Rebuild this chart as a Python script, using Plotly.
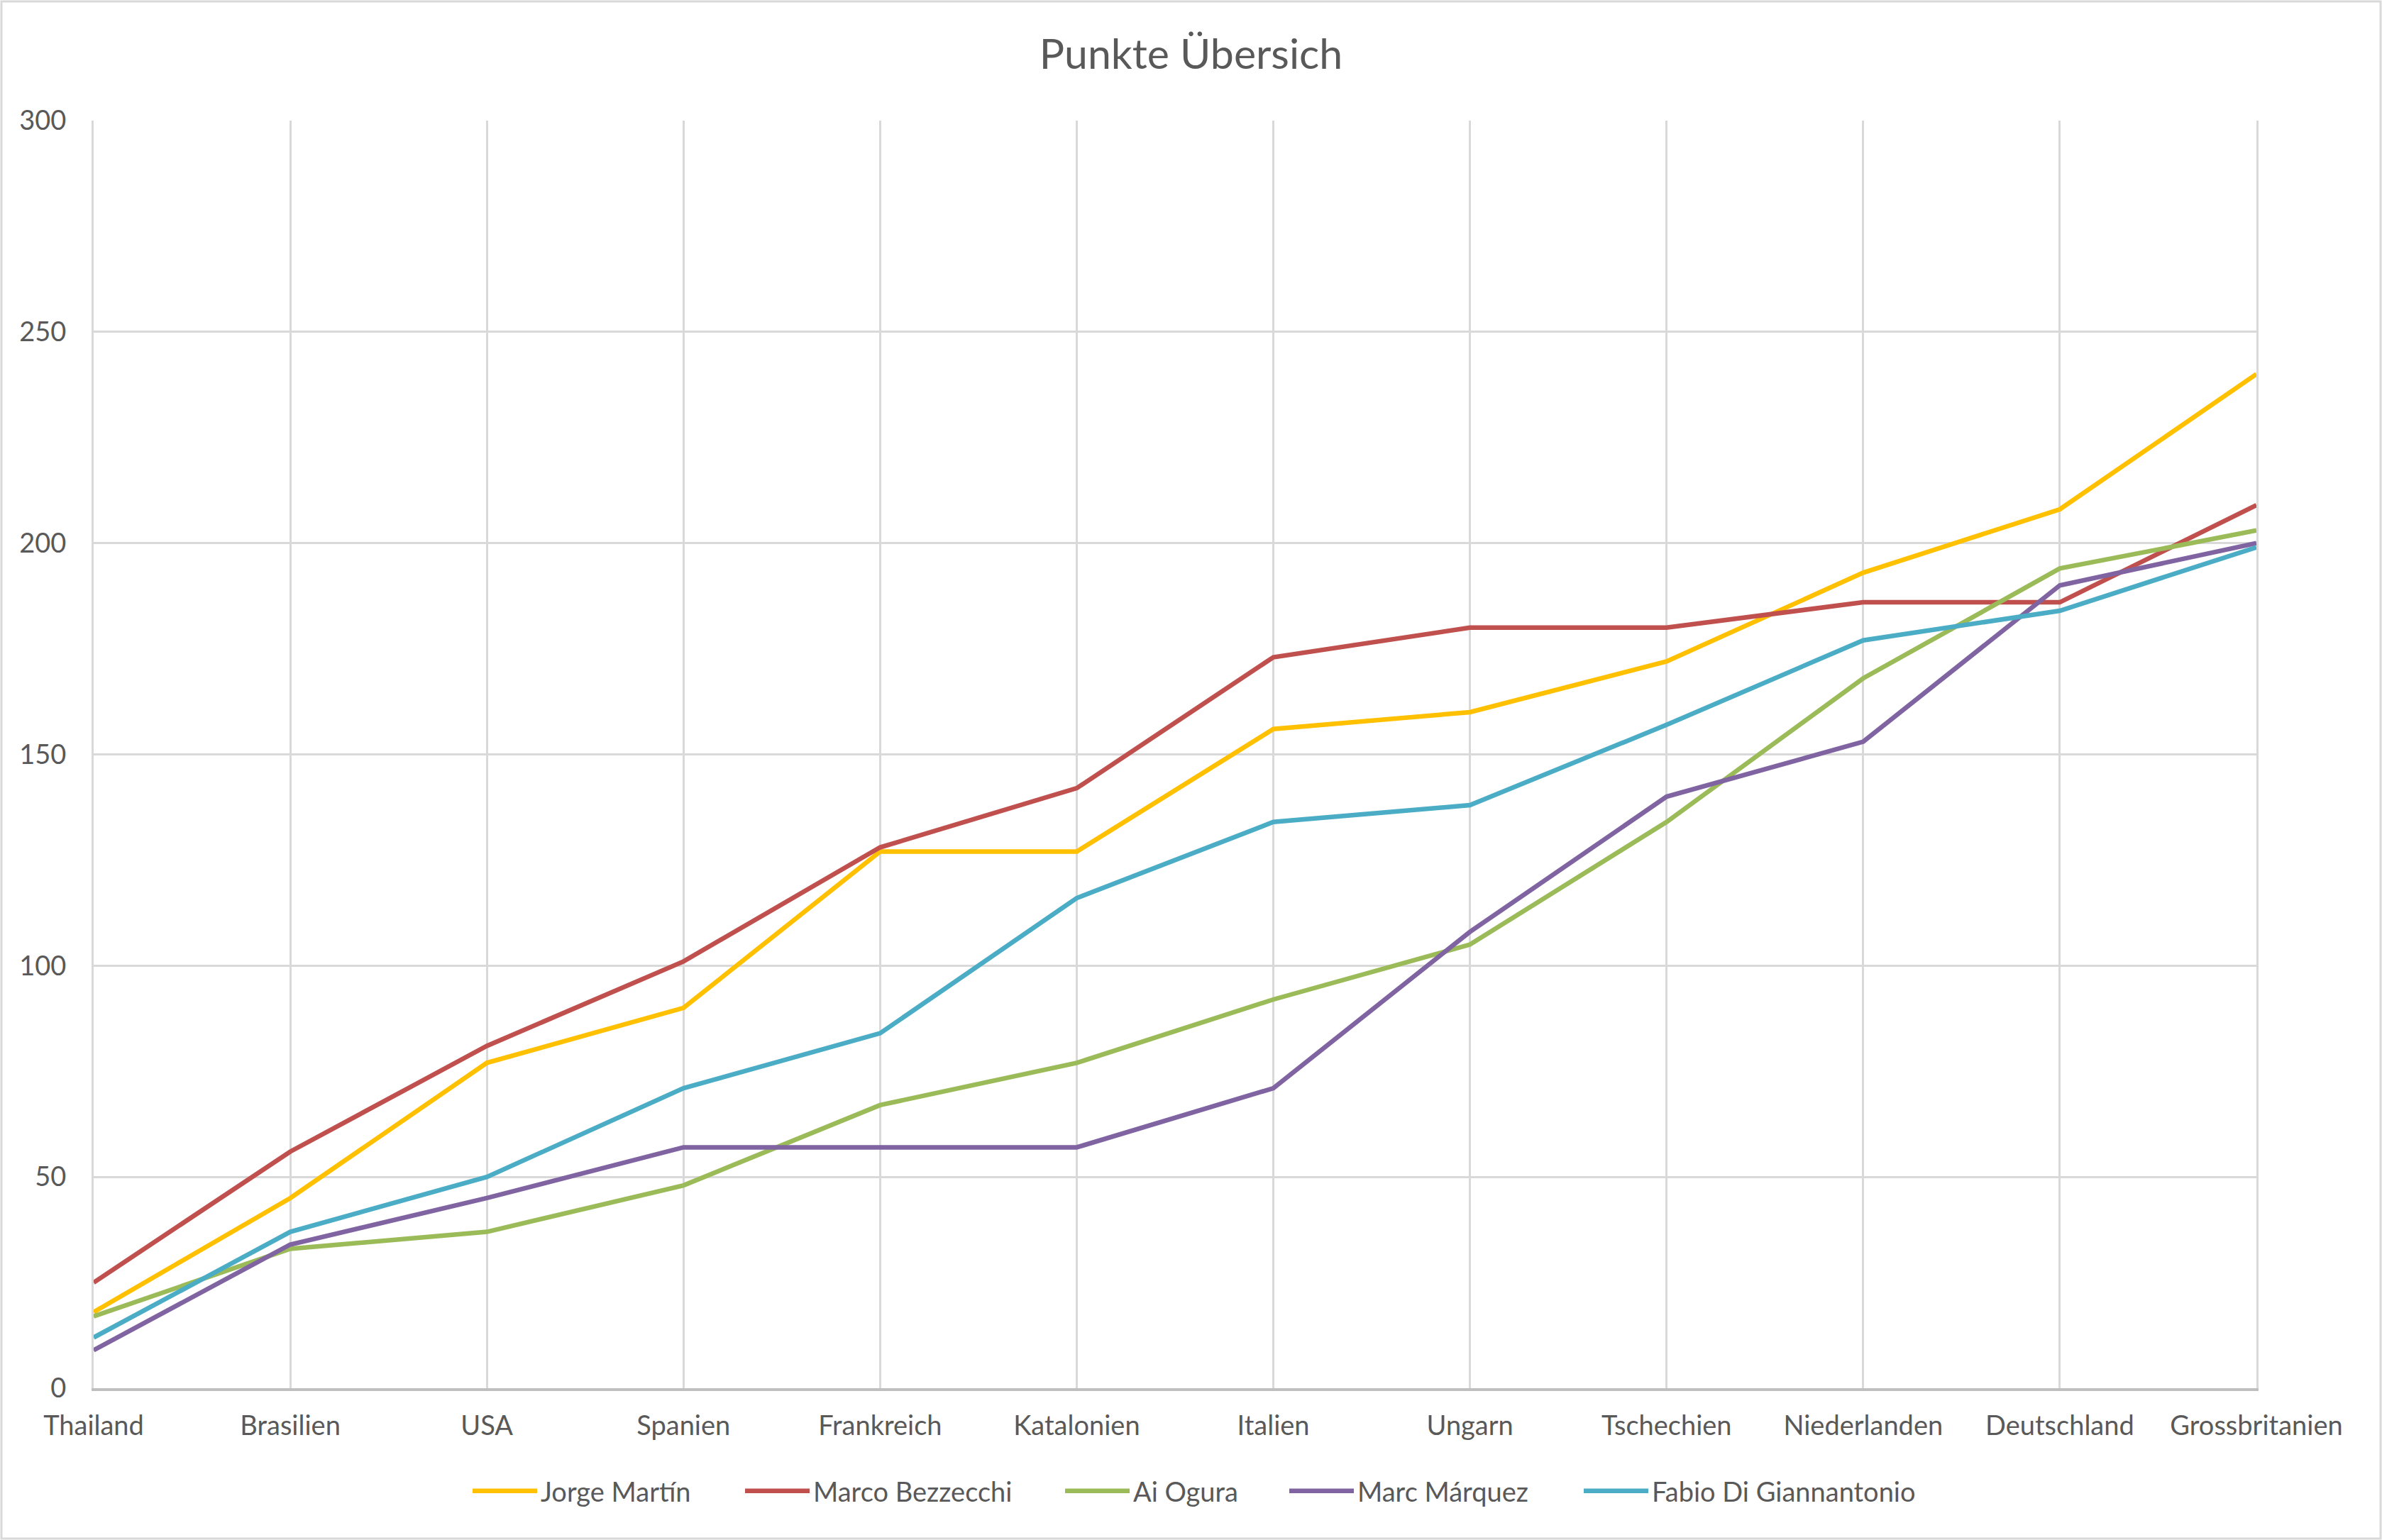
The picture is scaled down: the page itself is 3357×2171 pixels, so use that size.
import plotly.graph_objects as go

rennen = ["Thailand", "Brasilien", "USA", "Spanien", "Frankreich", "Katalonien",
          "Italien", "Ungarn", "Tschechien", "Niederlanden", "Deutschland", "Grossbritanien"]

martin = [18, 45, 77, 90, 127, 127, 156, 160, 172, 193, 208, 240]
bezzecchi = [25, 56, 81, 101, 128, 142, 173, 180, 180, 186, 186, 209]
ogura = [17, 33, 37, 48, 67, 77, 92, 105, 134, 168, 194, 203]
marquez = [9, 34, 45, 57, 57, 57, 71, 108, 140, 153, 190, 200]
digiannantonio = [12, 37, 50, 71, 84, 116, 134, 138, 157, 177, 184, 199]

fahrer = ["Jorge Martín", "Marco Bezzecchi", "Ai Ogura", "Marc Márquez", "Fabio Di Giannantonio"]
farben = ["#FFC000", "#C0504D", "#9BBB59", "#8064A2", "#4BACC6"]

W, H = 3357, 2171
L, R, T, B = 132, 177, 170, 214

# Startpunkte der Legendeneinträge (Pixel von links), wie in der Excel-Vorlage
legende_x = [665, 1049, 1500, 1816, 2231]

fig = go.Figure()
legenden = {}
for i, (name, werte, farbe) in enumerate(zip(fahrer, [martin, bezzecchi, ogura, marquez, digiannantonio], farben)):
    key = "legend" if i == 0 else f"legend{i + 1}"
    fig.add_trace(go.Scatter(x=rennen, y=werte, name=name, mode="lines",
                             legend=key, line=dict(color=farbe, width=6.5)))
    legenden[key] = dict(orientation="h", x=(legende_x[i] - 4) / W, xanchor="left",
                         xref="container", y=(H - 2102) / H, yanchor="middle",
                         yref="container", font=dict(size=38, color="#595959"),
                         itemwidth=91, bgcolor="rgba(0,0,0,0)")

# Rahmen um das ganze Diagramm (wie in Excel)
pw = W - L - R
ph = H - T - B
fig.add_shape(type="rect", xref="paper", yref="paper", layer="below",
              x0=-(L - 2) / pw, x1=1 + (R - 2) / pw,
              y0=-(B - 2) / ph, y1=1 + (T - 2) / ph,
              line=dict(color="#D9D9D9", width=3))

fig.update_layout(
    width=W, height=H,
    margin=dict(l=L, r=R, t=T, b=B),
    paper_bgcolor="white", plot_bgcolor="white",
    font=dict(family="Lato", size=38, color="#595959"),
    title=dict(text="Punkte Übersich", x=0.5, xanchor="center", xref="container",
               y=1 - 76 / H, yanchor="middle", font=dict(size=59, color="#595959")),
    showlegend=True,
    **legenden,
)
fig.update_xaxes(type="category", range=[0, len(rennen) - 1],
                 showgrid=True, gridcolor="#D9D9D9", gridwidth=3,
                 showline=True, linecolor="#BFBFBF", linewidth=4,
                 ticks="", ticklabelstandoff=16, fixedrange=True)
fig.update_yaxes(range=[0, 300], dtick=50, showgrid=True, gridcolor="#D9D9D9", gridwidth=3,
                 showline=True, mirror=True, linecolor="#D9D9D9", linewidth=3,
                 zeroline=False, ticks="", ticklabelstandoff=28)

fig.write_html("out.html", config={"displayModeBar": False},
               post_script="document.body.style.margin='0';")
